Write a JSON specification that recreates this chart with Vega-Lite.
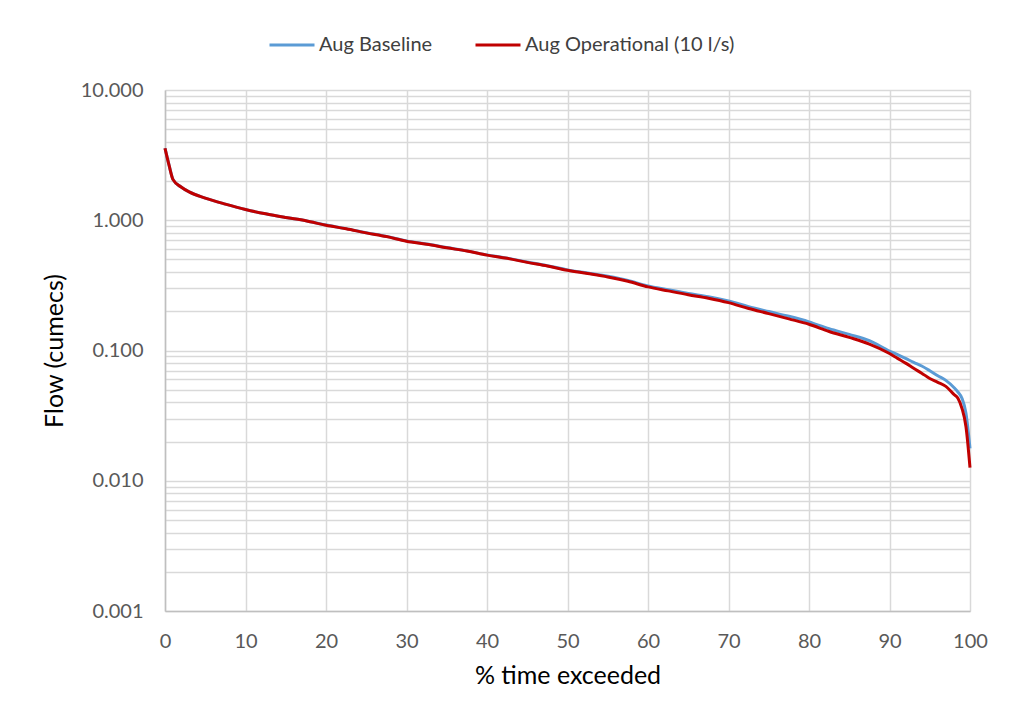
{
  "$schema": "https://vega.github.io/schema/vega-lite/v6.json",
  "autosize": "none",
  "padding": {"left": 165, "top": 90, "right": 39, "bottom": 114},
  "width": 805,
  "height": 521,
  "background": "white",
  "config": {
    "font": "Lato",
    "view": {"stroke": null}
  },
  "datasets": {
    "flows": [
      {"pct": 0, "series": "Aug Baseline", "flow": 3.57},
      {"pct": 0.5, "series": "Aug Baseline", "flow": 2.66},
      {"pct": 1, "series": "Aug Baseline", "flow": 2.05},
      {"pct": 2, "series": "Aug Baseline", "flow": 1.8},
      {"pct": 3, "series": "Aug Baseline", "flow": 1.65},
      {"pct": 5, "series": "Aug Baseline", "flow": 1.48},
      {"pct": 7.5, "series": "Aug Baseline", "flow": 1.33},
      {"pct": 10, "series": "Aug Baseline", "flow": 1.21},
      {"pct": 12.5, "series": "Aug Baseline", "flow": 1.12},
      {"pct": 15, "series": "Aug Baseline", "flow": 1.05},
      {"pct": 17.5, "series": "Aug Baseline", "flow": 0.99},
      {"pct": 20, "series": "Aug Baseline", "flow": 0.918},
      {"pct": 22.5, "series": "Aug Baseline", "flow": 0.862},
      {"pct": 25, "series": "Aug Baseline", "flow": 0.802},
      {"pct": 27.5, "series": "Aug Baseline", "flow": 0.752},
      {"pct": 30, "series": "Aug Baseline", "flow": 0.692},
      {"pct": 32.5, "series": "Aug Baseline", "flow": 0.657},
      {"pct": 35, "series": "Aug Baseline", "flow": 0.617},
      {"pct": 37.5, "series": "Aug Baseline", "flow": 0.582},
      {"pct": 40, "series": "Aug Baseline", "flow": 0.542},
      {"pct": 42.5, "series": "Aug Baseline", "flow": 0.512},
      {"pct": 45, "series": "Aug Baseline", "flow": 0.478},
      {"pct": 47.5, "series": "Aug Baseline", "flow": 0.448},
      {"pct": 50, "series": "Aug Baseline", "flow": 0.416},
      {"pct": 52.5, "series": "Aug Baseline", "flow": 0.393},
      {"pct": 55, "series": "Aug Baseline", "flow": 0.371},
      {"pct": 57.5, "series": "Aug Baseline", "flow": 0.345},
      {"pct": 60, "series": "Aug Baseline", "flow": 0.313},
      {"pct": 62.5, "series": "Aug Baseline", "flow": 0.293},
      {"pct": 65, "series": "Aug Baseline", "flow": 0.274},
      {"pct": 67.5, "series": "Aug Baseline", "flow": 0.259},
      {"pct": 70, "series": "Aug Baseline", "flow": 0.24},
      {"pct": 72.5, "series": "Aug Baseline", "flow": 0.217},
      {"pct": 75, "series": "Aug Baseline", "flow": 0.199},
      {"pct": 77.5, "series": "Aug Baseline", "flow": 0.183},
      {"pct": 80, "series": "Aug Baseline", "flow": 0.166},
      {"pct": 82.5, "series": "Aug Baseline", "flow": 0.147},
      {"pct": 85, "series": "Aug Baseline", "flow": 0.133},
      {"pct": 87.5, "series": "Aug Baseline", "flow": 0.119},
      {"pct": 90, "series": "Aug Baseline", "flow": 0.099},
      {"pct": 91, "series": "Aug Baseline", "flow": 0.093},
      {"pct": 92, "series": "Aug Baseline", "flow": 0.087},
      {"pct": 93, "series": "Aug Baseline", "flow": 0.081},
      {"pct": 94, "series": "Aug Baseline", "flow": 0.076},
      {"pct": 95, "series": "Aug Baseline", "flow": 0.07},
      {"pct": 96, "series": "Aug Baseline", "flow": 0.064},
      {"pct": 97, "series": "Aug Baseline", "flow": 0.059},
      {"pct": 98, "series": "Aug Baseline", "flow": 0.052},
      {"pct": 98.5, "series": "Aug Baseline", "flow": 0.048},
      {"pct": 99, "series": "Aug Baseline", "flow": 0.043},
      {"pct": 99.5, "series": "Aug Baseline", "flow": 0.033},
      {"pct": 100, "series": "Aug Baseline", "flow": 0.0177},
      {"pct": 0, "series": "Aug Operational (10 l/s)", "flow": 3.57},
      {"pct": 0.5, "series": "Aug Operational (10 l/s)", "flow": 2.65},
      {"pct": 1, "series": "Aug Operational (10 l/s)", "flow": 2.05},
      {"pct": 2, "series": "Aug Operational (10 l/s)", "flow": 1.8},
      {"pct": 3, "series": "Aug Operational (10 l/s)", "flow": 1.65},
      {"pct": 5, "series": "Aug Operational (10 l/s)", "flow": 1.48},
      {"pct": 7.5, "series": "Aug Operational (10 l/s)", "flow": 1.33},
      {"pct": 10, "series": "Aug Operational (10 l/s)", "flow": 1.21},
      {"pct": 12.5, "series": "Aug Operational (10 l/s)", "flow": 1.12},
      {"pct": 15, "series": "Aug Operational (10 l/s)", "flow": 1.05},
      {"pct": 17.5, "series": "Aug Operational (10 l/s)", "flow": 0.99},
      {"pct": 20, "series": "Aug Operational (10 l/s)", "flow": 0.916},
      {"pct": 22.5, "series": "Aug Operational (10 l/s)", "flow": 0.86},
      {"pct": 25, "series": "Aug Operational (10 l/s)", "flow": 0.8},
      {"pct": 27.5, "series": "Aug Operational (10 l/s)", "flow": 0.75},
      {"pct": 30, "series": "Aug Operational (10 l/s)", "flow": 0.69},
      {"pct": 32.5, "series": "Aug Operational (10 l/s)", "flow": 0.655},
      {"pct": 35, "series": "Aug Operational (10 l/s)", "flow": 0.615},
      {"pct": 37.5, "series": "Aug Operational (10 l/s)", "flow": 0.58},
      {"pct": 40, "series": "Aug Operational (10 l/s)", "flow": 0.54},
      {"pct": 42.5, "series": "Aug Operational (10 l/s)", "flow": 0.51},
      {"pct": 45, "series": "Aug Operational (10 l/s)", "flow": 0.475},
      {"pct": 47.5, "series": "Aug Operational (10 l/s)", "flow": 0.445},
      {"pct": 50, "series": "Aug Operational (10 l/s)", "flow": 0.413},
      {"pct": 52.5, "series": "Aug Operational (10 l/s)", "flow": 0.39},
      {"pct": 55, "series": "Aug Operational (10 l/s)", "flow": 0.367},
      {"pct": 57.5, "series": "Aug Operational (10 l/s)", "flow": 0.34},
      {"pct": 60, "series": "Aug Operational (10 l/s)", "flow": 0.308},
      {"pct": 62.5, "series": "Aug Operational (10 l/s)", "flow": 0.287},
      {"pct": 65, "series": "Aug Operational (10 l/s)", "flow": 0.268},
      {"pct": 67.5, "series": "Aug Operational (10 l/s)", "flow": 0.252},
      {"pct": 70, "series": "Aug Operational (10 l/s)", "flow": 0.233},
      {"pct": 72.5, "series": "Aug Operational (10 l/s)", "flow": 0.21},
      {"pct": 75, "series": "Aug Operational (10 l/s)", "flow": 0.192},
      {"pct": 77.5, "series": "Aug Operational (10 l/s)", "flow": 0.175},
      {"pct": 80, "series": "Aug Operational (10 l/s)", "flow": 0.159},
      {"pct": 82.5, "series": "Aug Operational (10 l/s)", "flow": 0.14},
      {"pct": 85, "series": "Aug Operational (10 l/s)", "flow": 0.126},
      {"pct": 87.5, "series": "Aug Operational (10 l/s)", "flow": 0.112},
      {"pct": 90, "series": "Aug Operational (10 l/s)", "flow": 0.0948},
      {"pct": 91, "series": "Aug Operational (10 l/s)", "flow": 0.087},
      {"pct": 92, "series": "Aug Operational (10 l/s)", "flow": 0.08},
      {"pct": 93, "series": "Aug Operational (10 l/s)", "flow": 0.073},
      {"pct": 94, "series": "Aug Operational (10 l/s)", "flow": 0.067},
      {"pct": 95, "series": "Aug Operational (10 l/s)", "flow": 0.061},
      {"pct": 96, "series": "Aug Operational (10 l/s)", "flow": 0.057},
      {"pct": 97, "series": "Aug Operational (10 l/s)", "flow": 0.053},
      {"pct": 98, "series": "Aug Operational (10 l/s)", "flow": 0.046},
      {"pct": 98.5, "series": "Aug Operational (10 l/s)", "flow": 0.043},
      {"pct": 99, "series": "Aug Operational (10 l/s)", "flow": 0.036},
      {"pct": 99.5, "series": "Aug Operational (10 l/s)", "flow": 0.026},
      {"pct": 100, "series": "Aug Operational (10 l/s)", "flow": 0.0126}
    ]
  },
  "data": {"name": "flows"},
  "mark": {"type": "line", "strokeWidth": 3, "interpolate": "monotone"},
  "encoding": {
    "x": {
      "field": "pct",
      "type": "quantitative",
      "scale": {"domain": [0, 100], "nice": false},
      "axis": {
        "title": "% time exceeded",
        "values": [0, 10, 20, 30, 40, 50, 60, 70, 80, 90, 100],
        "grid": true,
        "gridColor": "#d9d9d9",
        "gridWidth": 1.5,
        "ticks": false,
        "domainColor": "#bfbfbf",
        "domainWidth": 1.5,
        "labelFlush": false,
        "labelBound": false,
        "labelOverlap": false,
        "labelFontSize": 20,
        "labelColor": "#595959",
        "labelPadding": 20,
        "labelFont": "Lato",
        "titleFontSize": 25,
        "titleFontWeight": "normal",
        "titleColor": "#000000",
        "titlePadding": 12,
        "titleFont": "Lato"
      }
    },
    "y": {
      "field": "flow",
      "type": "quantitative",
      "scale": {"type": "log", "domain": [0.001, 10], "nice": false},
      "axis": {
        "title": "Flow (cumecs)",
        "values": [0.001, 0.002, 0.003, 0.004, 0.005, 0.006, 0.007, 0.008, 0.009, 0.01, 0.02, 0.03, 0.04, 0.05, 0.06, 0.07, 0.08, 0.09, 0.1, 0.2, 0.3, 0.4, 0.5, 0.6, 0.7, 0.8, 0.9, 1, 2, 3, 4, 5, 6, 7, 8, 9, 10],
        "labelExpr": "indexof([0.001, 0.01, 0.1, 1, 10], datum.value) >= 0 ? format(datum.value, '.3f') : ''",
        "labelOverlap": false,
        "labelBound": false,
        "labelFlush": false,
        "grid": true,
        "gridColor": "#d9d9d9",
        "gridWidth": 1.5,
        "ticks": false,
        "domainColor": "#bfbfbf",
        "domainWidth": 1.5,
        "labelFontSize": 20,
        "labelColor": "#595959",
        "labelPadding": 22,
        "labelFont": "Lato",
        "titleFontSize": 25,
        "titleFontWeight": "normal",
        "titleColor": "#000000",
        "titlePadding": 13,
        "titleFont": "Lato"
      }
    },
    "color": {
      "field": "series",
      "type": "nominal",
      "scale": {
        "domain": ["Aug Baseline", "Aug Operational (10 l/s)"],
        "range": ["#5b9bd5", "#c00000"]
      },
      "legend": {
        "title": null,
        "orient": "none",
        "direction": "horizontal",
        "legendX": 103,
        "legendY": -69,
        "symbolType": "stroke",
        "symbolSize": 2025,
        "symbolStrokeWidth": 3,
        "labelFontSize": 20,
        "labelColor": "#404040",
        "labelFont": "Lato",
        "labelOffset": 3,
        "columnPadding": 36,
        "labelLimit": 400
      }
    }
  }
}
